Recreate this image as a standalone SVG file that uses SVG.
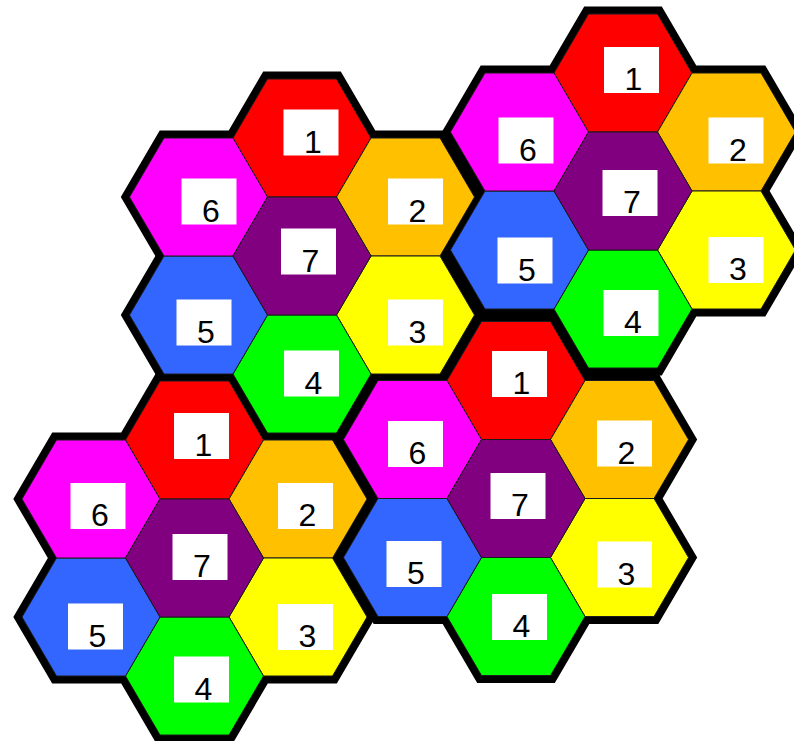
<svg xmlns="http://www.w3.org/2000/svg" xmlns:xlink="http://www.w3.org/1999/xlink" width="794" height="741" viewBox="0 0 794 741">
<style>
.hex{stroke:#1a1a1a;stroke-width:1;stroke-linejoin:miter}
.red{fill:#FF0000}.orange{fill:#FFC000}.yellow{fill:#FFFF00}.green{fill:#00FF00}
.blue{fill:#3366FF}.magenta{fill:#FF00FF}.purple{fill:#800080}
.box{fill:#FFFFFF}
.lbl{font-family:"Liberation Sans",Arial,sans-serif;font-size:32px;fill:#000;text-anchor:middle}
.border{fill:#000;stroke:#000;stroke-width:15;stroke-linejoin:miter}
</style>
<defs>
<path id="hexshape" d="M-69,0 L-34.5,-59 L34.5,-59 L69,0 L34.5,59 L-34.5,59 Z"/>
<path id="outline" d="M-34.5,-177 L34.5,-177 L69,-118 L138,-118 L172.5,-59 L138,0 L172.5,59 L138,118 L69,118 L34.5,177 L-34.5,177 L-69,118 L-138,118 L-172.5,59 L-138,0 L-172.5,-59 L-138,-118 L-69,-118 Z"/>
</defs>
<rect width="794" height="741" fill="#FFFFFF"/>
<g id="cluster-borders">
<use href="#outline" x="302" y="256" class="border"/>
<use href="#outline" x="623" y="191" class="border"/>
<use href="#outline" x="194.5" y="558" class="border"/>
<use href="#outline" x="516" y="498.5" class="border"/>
</g>
<g id="clusterA">
<g id="A1"><use href="#hexshape" x="302" y="138" class="hex red"/><rect class="box" x="283.5" y="109.5" width="55" height="46"/><text class="lbl" x="313" y="152.5">1</text></g>
<g id="A2"><use href="#hexshape" x="405.5" y="197" class="hex orange"/><rect class="box" x="388" y="178.5" width="55" height="46"/><text class="lbl" x="417.5" y="221.5">2</text></g>
<g id="A3"><use href="#hexshape" x="405.5" y="315" class="hex yellow"/><rect class="box" x="388" y="299.5" width="55" height="46"/><text class="lbl" x="417.5" y="342.5">3</text></g>
<g id="A4"><use href="#hexshape" x="302" y="374" class="hex green"/><rect class="box" x="284" y="350.5" width="55" height="46"/><text class="lbl" x="313.5" y="393.5">4</text></g>
<g id="A5"><use href="#hexshape" x="198.5" y="315" class="hex blue"/><rect class="box" x="176.5" y="299.5" width="55" height="46"/><text class="lbl" x="206" y="342.5">5</text></g>
<g id="A6"><use href="#hexshape" x="198.5" y="197" class="hex magenta"/><rect class="box" x="181.5" y="178.5" width="55" height="46"/><text class="lbl" x="211" y="221.5">6</text></g>
<g id="A7"><use href="#hexshape" x="302" y="256" class="hex purple"/><rect class="box" x="281" y="228.5" width="55" height="46"/><text class="lbl" x="310.5" y="271.5">7</text></g>
</g>
<g id="clusterB">
<g id="B1"><use href="#hexshape" x="623" y="73" class="hex red"/><rect class="box" x="604" y="47" width="55" height="46"/><text class="lbl" x="633.5" y="90">1</text></g>
<g id="B2"><use href="#hexshape" x="726.5" y="132" class="hex orange"/><rect class="box" x="708.5" y="117.5" width="55" height="46"/><text class="lbl" x="738" y="160.5">2</text></g>
<g id="B3"><use href="#hexshape" x="726.5" y="250" class="hex yellow"/><rect class="box" x="708.5" y="237" width="55" height="46"/><text class="lbl" x="738" y="280">3</text></g>
<g id="B4"><use href="#hexshape" x="623" y="309" class="hex green"/><rect class="box" x="603.5" y="290" width="55" height="46"/><text class="lbl" x="633" y="333">4</text></g>
<g id="B5"><use href="#hexshape" x="519.5" y="250" class="hex blue"/><rect class="box" x="497.5" y="237.5" width="55" height="46"/><text class="lbl" x="527" y="280.5">5</text></g>
<g id="B6"><use href="#hexshape" x="519.5" y="132" class="hex magenta"/><rect class="box" x="498.5" y="117.5" width="55" height="46"/><text class="lbl" x="528" y="160.5">6</text></g>
<g id="B7"><use href="#hexshape" x="623" y="191" class="hex purple"/><rect class="box" x="602.5" y="170" width="55" height="46"/><text class="lbl" x="632" y="213">7</text></g>
</g>
<g id="clusterC">
<g id="C1"><use href="#hexshape" x="194.5" y="440" class="hex red"/><rect class="box" x="174" y="413" width="55" height="46"/><text class="lbl" x="203.5" y="456">1</text></g>
<g id="C2"><use href="#hexshape" x="298" y="499" class="hex orange"/><rect class="box" x="278" y="483" width="55" height="46"/><text class="lbl" x="307.5" y="526">2</text></g>
<g id="C3"><use href="#hexshape" x="298" y="617" class="hex yellow"/><rect class="box" x="278" y="604" width="55" height="46"/><text class="lbl" x="307.5" y="647">3</text></g>
<g id="C4"><use href="#hexshape" x="194.5" y="676" class="hex green"/><rect class="box" x="174" y="656.5" width="55" height="46"/><text class="lbl" x="203.5" y="699.5">4</text></g>
<g id="C5"><use href="#hexshape" x="91" y="617" class="hex blue"/><rect class="box" x="68" y="603.5" width="55" height="46"/><text class="lbl" x="97.5" y="646.5">5</text></g>
<g id="C6"><use href="#hexshape" x="91" y="499" class="hex magenta"/><rect class="box" x="70.5" y="483" width="55" height="46"/><text class="lbl" x="100" y="526">6</text></g>
<g id="C7"><use href="#hexshape" x="194.5" y="558" class="hex purple"/><rect class="box" x="172.5" y="534" width="55" height="46"/><text class="lbl" x="202" y="577">7</text></g>
</g>
<g id="clusterD">
<g id="D1"><use href="#hexshape" x="516" y="380.5" class="hex red"/><rect class="box" x="492" y="351" width="55" height="46"/><text class="lbl" x="521.5" y="394">1</text></g>
<g id="D2"><use href="#hexshape" x="619.5" y="439.5" class="hex orange"/><rect class="box" x="597" y="420.5" width="55" height="46"/><text class="lbl" x="626.5" y="463.5">2</text></g>
<g id="D3"><use href="#hexshape" x="619.5" y="557.5" class="hex yellow"/><rect class="box" x="597" y="541.5" width="55" height="46"/><text class="lbl" x="626.5" y="584.5">3</text></g>
<g id="D4"><use href="#hexshape" x="516" y="616.5" class="hex green"/><rect class="box" x="492" y="594" width="55" height="46"/><text class="lbl" x="521.5" y="637">4</text></g>
<g id="D5"><use href="#hexshape" x="412.5" y="557.5" class="hex blue"/><rect class="box" x="386.5" y="541" width="55" height="46"/><text class="lbl" x="416" y="584">5</text></g>
<g id="D6"><use href="#hexshape" x="412.5" y="439.5" class="hex magenta"/><rect class="box" x="388" y="421" width="55" height="46"/><text class="lbl" x="417.5" y="464">6</text></g>
<g id="D7"><use href="#hexshape" x="516" y="498.5" class="hex purple"/><rect class="box" x="490.5" y="473" width="55" height="46"/><text class="lbl" x="520" y="516">7</text></g>
</g>
</svg>
